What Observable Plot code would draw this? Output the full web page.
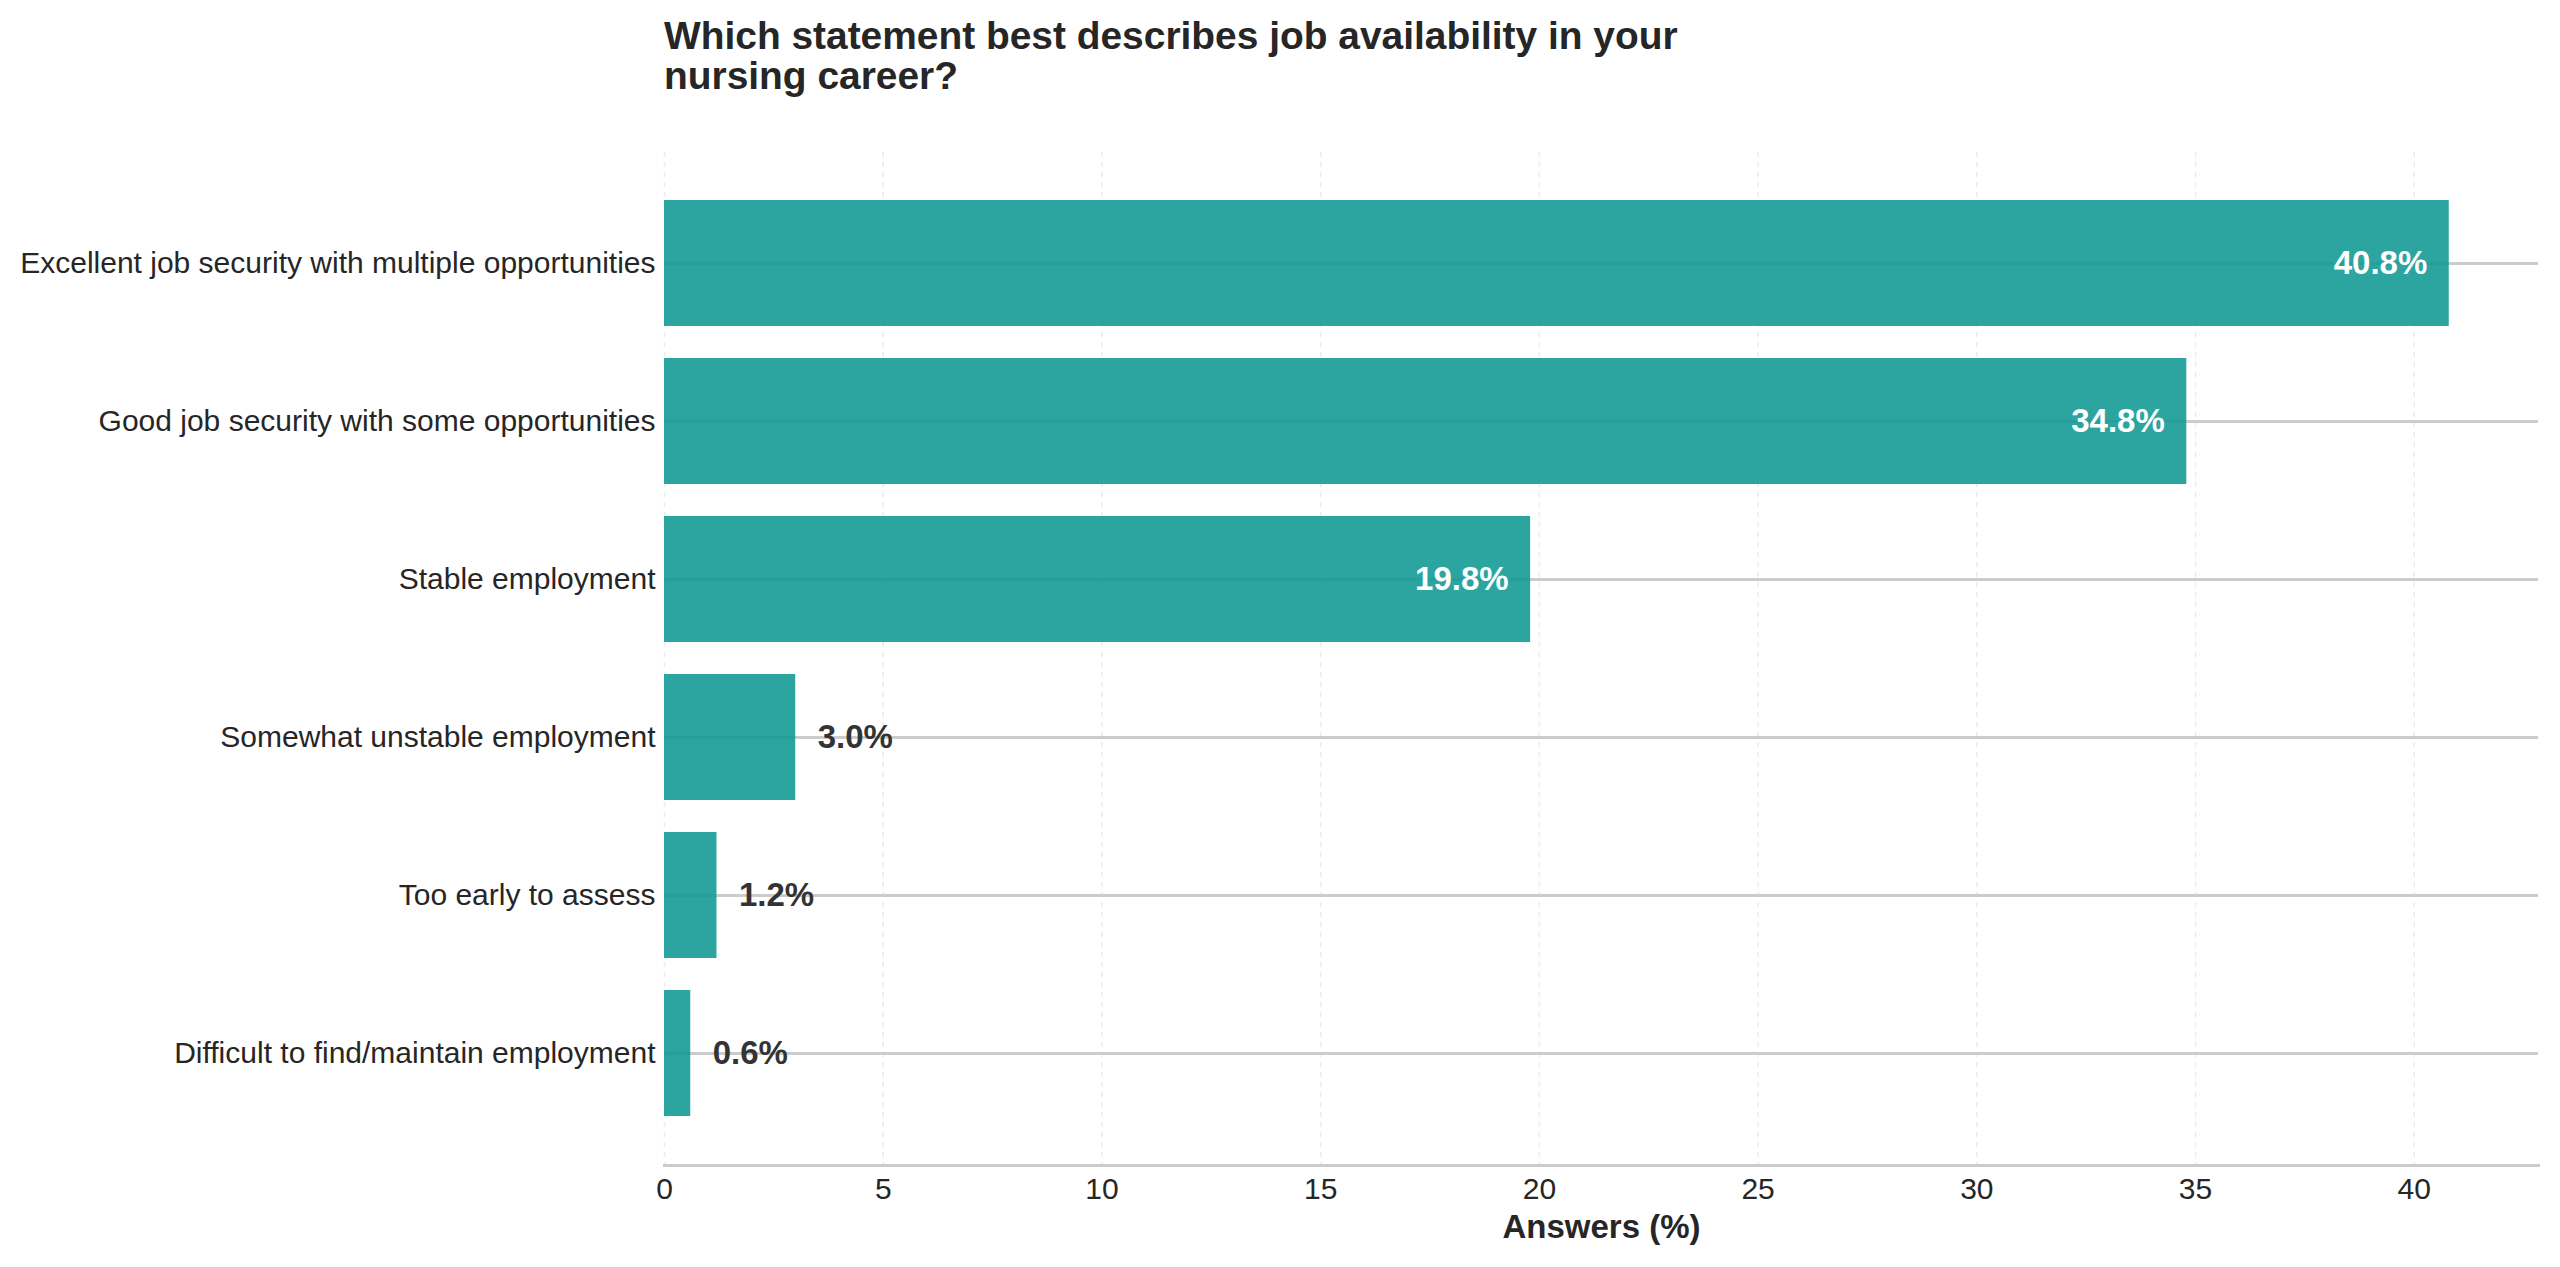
<!DOCTYPE html>
<html>
<head>
<meta charset="utf-8">
<script src="https://cdn.jsdelivr.net/npm/d3@7"></script>
<script src="https://cdn.jsdelivr.net/npm/@observablehq/plot@0.6"></script>
<style>
  html, body { margin: 0; padding: 0; background: #ffffff; }
  body { width: 2560px; height: 1267px; overflow: hidden; font-family: "Liberation Sans", Arial, sans-serif; color: #262626; }
  #title { box-sizing: border-box; height: 120px; padding-top: 16px; padding-left: 664px; font-size: 38.9px; font-weight: bold; line-height: 40px; color: #262626; }
  #chart svg { display: block; }
</style>
</head>
<body>
<div id="title">Which statement best describes job availability in your<br>nursing career?</div>
<div id="chart"></div>
<script>
const categories = [
  "Excellent job security with multiple opportunities",
  "Good job security with some opportunities",
  "Stable employment",
  "Somewhat unstable employment",
  "Too early to assess",
  "Difficult to find/maintain employment"
];
const values = [40.8, 34.8, 19.8, 3.0, 1.2, 0.6];
const xTicks = [0, 5, 10, 15, 20, 25, 30, 35, 40];
const xMax = 42.84;
const xLabel = "Answers (%)";

const data = categories.map((c, i) => ({category: c, value: values[i]}));
const fmt = d => d.value.toFixed(1) + "%";

const chart = Plot.plot({
  width: 2560,
  height: 1147,
  marginTop: 32,
  marginBottom: 102,
  marginLeft: 664,
  marginRight: 22,
  style: {fontFamily: '"Liberation Sans", Arial, sans-serif', color: "#262626", background: "#ffffff"},
  x: {domain: [0, xMax]},
  y: {domain: categories, paddingInner: 0.2, paddingOuter: 0.29, label: null},
  marks: [
    Plot.gridX({ticks: xTicks, stroke: "#ebebeb", strokeOpacity: 1, strokeWidth: 1.5, strokeDasharray: "5,5"}),
    Plot.gridY({stroke: "#cccccc", strokeOpacity: 1, strokeWidth: 3}),
    Plot.barX(data, {x: "value", y: "category", fill: "#0f9893", fillOpacity: 0.88}),
    Plot.text(data.filter(d => d.value > 10), {x: "value", y: "category", text: fmt, textAnchor: "end", dx: -22, fill: "white", fontWeight: "bold", fontSize: 33}),
    Plot.text(data.filter(d => d.value <= 10), {x: "value", y: "category", text: fmt, textAnchor: "start", dx: 22, fill: "#333333", fontWeight: "bold", fontSize: 33}),
    Plot.axisY({tickSize: 0, tickPadding: 9, fontSize: 30, label: null}),
    Plot.axisX({ticks: xTicks, tickSize: 0, tickPadding: 12, fontSize: 30, label: null}),
    Plot.frame({anchor: "bottom", stroke: "#cccccc", strokeWidth: 3}),
    Plot.text([xLabel], {frameAnchor: "bottom", lineAnchor: "middle", dy: 62, text: d => d, fontWeight: "bold", fontSize: 33, fill: "#262626"})
  ]
});
document.getElementById("chart").appendChild(chart);
</script>
</body>
</html>
